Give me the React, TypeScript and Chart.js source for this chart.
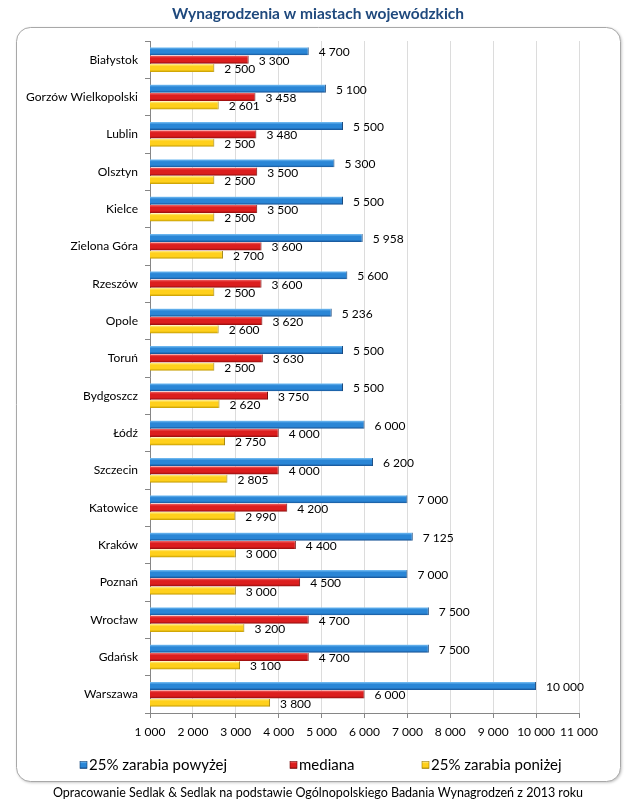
import { useEffect, useRef } from "react";
import { Chart, registerables } from "chart.js";

Chart.register(...registerables);

const cities = [
  "Białystok",
  "Gorzów Wielkopolski",
  "Lublin",
  "Olsztyn",
  "Kielce",
  "Zielona Góra",
  "Rzeszów",
  "Opole",
  "Toruń",
  "Bydgoszcz",
  "Łódź",
  "Szczecin",
  "Katowice",
  "Kraków",
  "Poznań",
  "Wrocław",
  "Gdańsk",
  "Warszawa",
];
const top25 = [4700, 5100, 5500, 5300, 5500, 5958, 5600, 5236, 5500, 5500, 6000, 6200, 7000, 7125, 7000, 7500, 7500, 10000];
const median = [3300, 3458, 3480, 3500, 3500, 3600, 3600, 3620, 3630, 3750, 4000, 4000, 4200, 4400, 4500, 4700, 4700, 6000];
const bottom25 = [2500, 2601, 2500, 2500, 2500, 2700, 2500, 2600, 2500, 2620, 2750, 2805, 2990, 3000, 3000, 3200, 3100, 3800];
const seriesLabels = ["25% zarabia powyżej", "mediana", "25% zarabia poniżej"];
const xMin = 1000;
const xMax = 11000;
const xStep = 1000;
const titleText = "Wynagrodzenia w miastach wojewódzkich";
const footerText = "Opracowanie Sedlak & Sedlak na podstawie Ogólnopolskiego Badania Wynagrodzeń z 2013 roku";

const FONT = "Lato, 'Open Sans', 'DejaVu Sans', sans-serif";

const palettes = [
  { light: "#7cc2f5", main: "#2a86d6", dark: "#154f90", edge: "#103f74" },
  { light: "#f26a6a", main: "#dc1e1e", dark: "#900c0c", edge: "#700808" },
  { light: "#fff19a", main: "#ffd01c", dark: "#c29a00", edge: "#9a7a00" },
];

const fmt = (v: number) => String(v).replace(/\B(?=(\d{3})+(?!\d))/g, " ");

function makeGrad(ctx: CanvasRenderingContext2D, y0: number, y1: number, p: any) {
  const g = ctx.createLinearGradient(0, y0, 0, y1);
  g.addColorStop(0, p.light);
  g.addColorStop(0.3, p.main);
  g.addColorStop(0.72, p.main);
  g.addColorStop(1, p.dark);
  return g;
}

const decor = {
  id: "decor",
  beforeDraw(chart: any) {
    const ctx = chart.ctx as CanvasRenderingContext2D;
    ctx.save();
    ctx.fillStyle = "#ffffff";
    ctx.fillRect(0, 0, chart.width, chart.height);
    ctx.beginPath();
    (ctx as any).roundRect(16.5, 27.5, 604, 754, 14);
    ctx.shadowColor = "rgba(0,0,0,0.28)";
    ctx.shadowBlur = 3;
    ctx.shadowOffsetX = 1;
    ctx.shadowOffsetY = 1;
    ctx.fillStyle = "#ffffff";
    ctx.fill();
    ctx.shadowColor = "transparent";
    ctx.strokeStyle = "#a8a8a8";
    ctx.lineWidth = 1;
    ctx.stroke();
    ctx.font = `bold 15.5px ${FONT}`;
    ctx.fillStyle = "#1f497d";
    ctx.textAlign = "center";
    ctx.textBaseline = "middle";
    ctx.fillText(titleText, 318, 14);
    ctx.restore();
  },
  beforeDatasetsDraw(chart: any) {
    const ctx = chart.ctx as CanvasRenderingContext2D;
    chart.data.datasets.forEach((_ds: any, di: number) => {
      const meta = chart.getDatasetMeta(di);
      meta.data.forEach((el: any) => {
        const h = el.height;
        el.options.backgroundColor = makeGrad(ctx, el.y - h / 2, el.y + h / 2, palettes[di]);
      });
    });
  },
  afterDatasetsDraw(chart: any) {
    const ctx = chart.ctx as CanvasRenderingContext2D;
    ctx.save();
    ctx.font = `12px ${FONT}`;
    ctx.fillStyle = "#000000";
    ctx.textAlign = "left";
    ctx.textBaseline = "middle";
    chart.data.datasets.forEach((ds: any, di: number) => {
      const meta = chart.getDatasetMeta(di);
      meta.data.forEach((el: any, i: number) => {
        ctx.fillText(fmt(ds.data[i]), el.x + 10, el.y + 1);
      });
    });
    ctx.restore();
  },
  afterDraw(chart: any) {
    const ctx = chart.ctx as CanvasRenderingContext2D;
    ctx.save();
    const legendX = [80, 290, 422];
    const ly = 765;
    chart.data.datasets.forEach((ds: any, di: number) => {
      const bx = legendX[di];
      const p = palettes[di];
      ctx.fillStyle = makeGrad(ctx, ly - 3.5, ly + 3.5, p);
      ctx.fillRect(bx, ly - 3.5, 7, 7);
      ctx.strokeStyle = p.edge;
      ctx.lineWidth = 0.6;
      ctx.strokeRect(bx, ly - 3.5, 7, 7);
      ctx.font = `15px ${FONT}`;
      ctx.fillStyle = "#000000";
      ctx.textAlign = "left";
      ctx.textBaseline = "middle";
      ctx.fillText(ds.label, bx + 9, ly);
    });
    ctx.font = `12.5px ${FONT}`;
    ctx.fillStyle = "#000000";
    ctx.textAlign = "center";
    ctx.textBaseline = "middle";
    ctx.fillText(footerText, 318, 793);
    ctx.restore();
  },
};

export default function App() {
  const ref = useRef<HTMLCanvasElement | null>(null);
  useEffect(() => {
    if (!ref.current) return;
    const seriesData = [top25, median, bottom25];
    const chart = new Chart(ref.current, {
      type: "bar",
      data: {
        labels: cities,
        datasets: seriesData.map((d, i) => ({
          label: seriesLabels[i],
          data: d,
          backgroundColor: () => palettes[i].main,
          borderColor: palettes[i].edge,
          borderWidth: { top: 0, bottom: 0, left: 0, right: 1 },
          borderSkipped: false,
          categoryPercentage: 0.67,
          barPercentage: 0.97,
        })),
      },
      options: {
        indexAxis: "y",
        responsive: false,
        animation: false,
        events: [],
        layout: { padding: { left: 0, right: 55, top: 41, bottom: 69 } },
        plugins: {
          legend: { display: false },
          title: { display: false },
          tooltip: { enabled: false },
        },
        scales: {
          x: {
            type: "linear",
            position: "bottom",
            min: xMin,
            max: xMax,
            ticks: {
              stepSize: xStep,
              callback: (v: any) => fmt(Number(v)),
              font: { family: FONT, size: 12 },
              color: "#000000",
              padding: 7,
              maxRotation: 0,
              autoSkip: false,
            },
            grid: { color: "#dcdcdc", tickColor: "#868686", tickLength: 5, drawTicks: true },
            border: { color: "#868686" },
            afterFit: (s: any) => {
              s.height = 30;
            },
          },
          y: {
            type: "category",
            ticks: {
              font: { family: FONT, size: 12 },
              color: "#000000",
              padding: 7,
              autoSkip: false,
            },
            grid: { drawOnChartArea: false, tickLength: 5, color: "#868686", offset: true },
            border: { color: "#868686" },
            afterFit: (s: any) => {
              s.width = 150;
            },
          },
        },
      },
      plugins: [decor],
    } as any);
    return () => chart.destroy();
  }, []);
  return (
    <div style={{ position: "fixed", left: 0, top: 0, width: 634, height: 812, background: "#fff" }}>
      <canvas ref={ref} width={634} height={812} style={{ display: "block" }} />
    </div>
  );
}
